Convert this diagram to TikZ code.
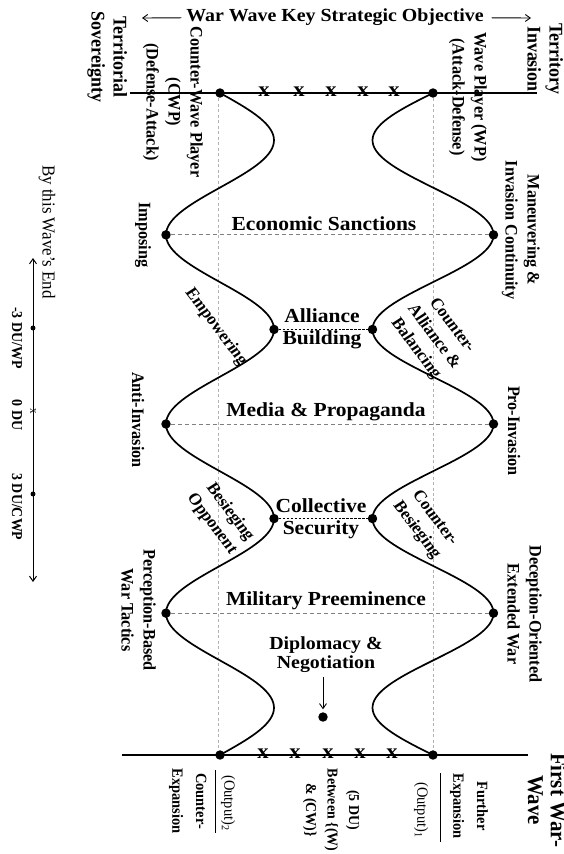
\documentclass[tikz,border=0pt]{standalone}
\usepackage{fontspec}
\setmainfont{Liberation Serif}
\usepackage{graphicx}
\usetikzlibrary{arrows.meta}
\newcommand{\SRot}[2]{\scalebox{1.08}[1]{\rotatebox{#1}{#2}}}
\newcommand{\Lines}[1]{\begin{tabular}{@{}c@{}}#1\end{tabular}}
\tikzset{
  every node/.style={inner sep=0pt, outer sep=0pt},
  wave/.style={line width=1.7pt, line join=round},
  axisline/.style={line width=1.3pt},
  bigdot/.style={circle, fill=black, minimum size=9.5pt},
  smalldot/.style={circle, fill=black, minimum size=5pt},
  gdash/.style={gray, dash pattern=on 4pt off 3pt, line width=0.8pt},
  vdash/.style={gray!60, dash pattern=on 3pt off 2.5pt, line width=0.8pt},
  bdash/.style={black, dash pattern=on 2.5pt off 1.5pt, line width=0.8pt},
  sidelab/.style={font=\bfseries\fontsize{16.3}{20.5}\selectfont},
  cornerlab/.style={font=\bfseries\fontsize{18}{20.5}\selectfont},
  biglab/.style={font=\bfseries\fontsize{20}{22}\selectfont},
  titlelab/.style={font=\bfseries\fontsize{18.5}{20}\selectfont},
  diplab/.style={font=\bfseries\fontsize{18.5}{19.5}\selectfont},
  botlab/.style={font=\bfseries\fontsize{14.5}{22}\selectfont},
  botplain/.style={font=\fontsize{14.5}{22}\selectfont},
  midlab/.style={font=\bfseries\fontsize{14}{20}\selectfont},
  scalelab/.style={font=\bfseries\fontsize{14}{16}\selectfont},
  plainlab/.style={font=\fontsize{17}{20}\selectfont},
  wavelab/.style={font=\bfseries\fontsize{21}{21}\selectfont},
  xmark/.style={font=\bfseries\fontsize{21}{21}\selectfont},
  thinarrow/.style={line width=0.9pt, -{Straight Barb[length=5pt,width=7pt]}},
  scalearrow/.style={line width=1pt, {Straight Barb[length=5pt,width=7pt]}-{Straight Barb[length=5pt,width=7pt]}},
}
\begin{document}
\begin{tikzpicture}[x=1bp,y=-1bp]
\useasboundingbox (0,0) rectangle (564,854);

% guide lines
\coordinate (vlt) at (218,93); \coordinate (vlb) at (218,755);
\coordinate (vrt) at (433,93); \coordinate (vrb) at (433,755);
\draw[vdash] (vlt) -- (vlb);
\draw[vdash] (vrt) -- (vrb);

% top and bottom lines
\coordinate (tA) at (130,93); \coordinate (tB) at (537,93);
\coordinate (bA) at (122,755); \coordinate (bB) at (528,755);
\draw[axisline] (tA) -- (tB);
\draw[axisline] (bA) -- (bB);

% waves
\draw[wave] plot[domain=93:755,samples=240,variable=\t] ({220+54*sin(1.90332*(\t-93))},\t);
\draw[wave] plot[domain=93:755,samples=240,variable=\t] ({433-60.5*sin(1.90332*(\t-93))},\t);

% dots on the waves
\node[bigdot] (LT) at (220,93) {};
\node[bigdot] (RT) at (433,93) {};
\node[bigdot] (LB) at (220,755) {};
\node[bigdot] (RB) at (433,755) {};
\node[bigdot] (L1) at (166,234.86) {};
\node[bigdot] (R1) at (493.5,234.86) {};
\node[bigdot] (L2) at (274,329.43) {};
\node[bigdot] (R2) at (372.5,329.43) {};
\node[bigdot] (L3) at (166,424) {};
\node[bigdot] (R3) at (493.5,424) {};
\node[bigdot] (L4) at (274,518.57) {};
\node[bigdot] (R4) at (372.5,518.57) {};
\node[bigdot] (L5) at (166,613.14) {};
\node[bigdot] (R5) at (493.5,613.14) {};

\draw[gdash] (L1) -- (R1);
\draw[bdash] (L2) -- (R2);
\draw[gdash] (L3) -- (R3);
\draw[bdash] (L4) -- (R4);
\draw[gdash] (L5) -- (R5);

% x marks
\foreach \xx [count=\i] in {264,299,331,363,394}
  \node[xmark] (tx\i) at (\xx,92) {\SRot{0}{x}};
\foreach \xx [count=\i] in {263,295,328,360,392}
  \node[xmark] (bx\i) at (\xx,754) {\SRot{0}{x}};

% title
\node[titlelab] (title) at (335,17) {\SRot{0}{War Wave Key Strategic Objective}};
\coordinate (ltip) at (142,18);
\coordinate (rtip) at (531,18);
\draw[thinarrow, shorten <=5pt] (title) -- (ltip);
\draw[thinarrow, shorten <=8pt] (title) -- (rtip);

% corner labels
\node[cornerlab] (terl) at (107,57) {\SRot{-90}{\Lines{Territorial\\Sovereignty}}};
\node[cornerlab] (terr) at (543,59) {\SRot{-90}{\Lines{Territory\\Invasion}}};

% side labels
\node[sidelab] (cwp) at (173,102) {\SRot{-90}{\Lines{Counter-Wave Player\\(CWP)\\(Defense-Attack)}}};
\node[sidelab] (wp) at (468,97) {\SRot{-90}{\Lines{Wave Player (WP)\\(Attack-Defense)}}};
\node[sidelab] (man) at (521,230) {\SRot{-90}{\Lines{Maneuvering \&\\Invasion Continuity}}};
\node[sidelab] (imp) at (143,235) {\SRot{-90}{Imposing}};
\node[sidelab] (pro) at (514,431) {\SRot{-90}{Pro-Invasion}};
\node[sidelab] (anti) at (138,420) {\SRot{-90}{Anti-Invasion}};
\node[sidelab] (dec) at (523,614) {\SRot{-90}{\Lines{Deception-Oriented\\Extended War}}};
\node[sidelab] (per) at (137,610) {\SRot{-90}{\Lines{Perception-Based\\War Tactics}}};

% angled labels
\node[sidelab] (emp) at (216,327) {\SRot{-55}{Empowering}};
\node[sidelab] (cab) at (434,337) {\SRot{-55}{\Lines{Counter-\\Alliance \&\\Balancing}}};
\node[sidelab] (bes) at (221,518) {\SRot{-55}{\Lines{Besieging\\Opponent}}};
\node[sidelab] (cbs) at (426,524) {\SRot{-55}{\Lines{Counter-\\Besieging}}};

% central labels
\node[biglab] (eco) at (324,224) {\SRot{0}{Economic Sanctions}};
\node[biglab] (all) at (322,329) {\SRot{0}{\Lines{Alliance\\Building}}};
\node[biglab] (med) at (326,412) {\SRot{0}{Media \& Propaganda}};
\node[biglab] (col) at (321,519) {\SRot{0}{\Lines{Collective\\Security}}};
\node[biglab] (mil) at (326,601) {\SRot{0}{Military Preeminence}};
\node[diplab] (dip) at (326,655) {\SRot{0}{\Lines{Diplomacy \&\\Negotiation}}};
\node[bigdot] (ddot) at (323,717) {};
\draw[thinarrow, shorten <=3pt, shorten >=3pt] (dip.south -| ddot) -- (ddot);

% bottom labels
\node[botplain] (out2) at (228,803) {\SRot{-90}{(Output)\textsubscript{2}}};
\coordinate (bar2a) at (215,770); \coordinate (bar2b) at (215,833);
\draw[line width=1pt] (bar2a) -- (bar2b);
\node[botlab] (cexp) at (189,801) {\SRot{-90}{\Lines{Counter-\\Expansion}}};
\node[midlab] (mid) at (332,810) {\SRot{-90}{\Lines{(5 DU)\\Between \{(W)\\\& (CW)\}}}};
\node[botlab] (fexp) at (470,806) {\SRot{-90}{\Lines{Further\\Expansion}}};
\coordinate (bar1a) at (440,773); \coordinate (bar1b) at (440,842);
\draw[line width=1pt] (bar1a) -- (bar1b);
\node[botplain] (out1) at (421,810) {\SRot{-90}{(Output)\textsubscript{1}}};
\node[wavelab] (fww) at (544,800) {\SRot{-90}{\Lines{First War-\\Wave}}};

% scale on the left
\node[plainlab] (end) at (47,232) {\SRot{-90}{By this Wave’s End}};
\coordinate (sTop) at (33,258); \coordinate (sBot) at (33,582);
\draw[scalearrow] (sTop) -- (sBot);
\node[smalldot] (m3) at (33,328) {};
\node[font=\fontsize{11}{11}\selectfont] (m0) at (33,411) {\SRot{-90}{x}};
\node[smalldot] (p3) at (33,494) {};
\node[scalelab] (lm3) at (17,338) {\SRot{-90}{-3 DU/WP}};
\node[scalelab] (l0) at (17,415) {\SRot{-90}{0 DU}};
\node[scalelab] (lp3) at (17,507) {\SRot{-90}{3 DU/CWP}};
\end{tikzpicture}
\end{document}
